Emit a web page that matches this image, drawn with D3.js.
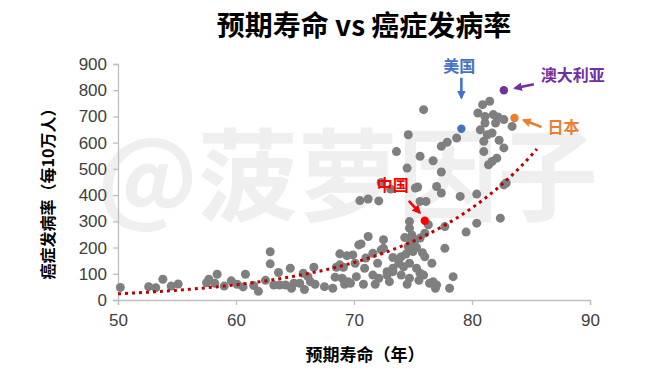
<!DOCTYPE html>
<html>
<head>
<meta charset="utf-8">
<script src="https://cdn.jsdelivr.net/npm/d3@7"></script>
<style>
  body { margin: 0; background: #fff; }
  svg text { font-family: "Liberation Sans", Arial, sans-serif; }
  .cjk { font-family: "Noto Sans CJK SC", sans-serif; }
</style>
</head>
<body>
<div id="chart"></div>
<script>
// life expectancy (years) / cancer incidence (per 100k) per country
const lifeExp = [
  50.2, 52.6, 53.2, 53.8, 54.5, 55.1, 57.5, 57.7, 58.4, 58.2, 59.0, 59.6, 60.1, 60.6, 60.8,
  61.5, 61.9, 62.5, 62.9, 62.9, 63.2, 63.6, 63.7, 64.2, 64.6, 64.7, 64.9, 65.4, 65.7, 65.8,
  66.1, 66.3, 66.6, 66.7, 67.5, 68.2, 68.4, 68.5, 68.8, 68.8, 69.0, 69.1, 69.2, 69.5, 69.7,
  69.4, 69.9,
  70.1, 70.2, 70.4, 70.5, 70.6, 70.9, 71.2, 71.2, 71.6, 71.6, 72.1, 72.1, 72.3, 72.3, 72.5,
  72.8, 72.8, 73.1, 73.3, 73.3, 73.3, 73.6, 74.0, 74.0, 74.2, 74.3, 74.5, 74.6, 74.6, 74.7,
  74.7, 74.7, 74.7, 74.9, 75.2, 75.2, 75.3, 75.3, 75.4, 75.6, 75.6, 75.6, 75.6, 75.9, 76.0,
  76.0, 76.1, 76.3, 76.4, 76.6, 76.7, 76.7, 76.9, 77.0, 77.0, 77.4, 77.4, 77.4, 77.7, 77.7,
  77.9, 78.1, 78.4, 78.7, 79.0, 79.5,
  74.8, 75.0, 74.4, 75.8, 73.8, 72.0, 71.0, 70.8, 71.8, 73.0, 74.5, 75.5, 75.9, 72.5,
  80.4, 80.4, 80.5, 80.7, 80.9, 81.0, 81.0, 81.1, 81.1, 81.3, 81.4, 81.5, 81.7, 81.7, 81.8,
  82.0, 82.1, 82.2, 82.3, 82.4, 82.7, 82.7, 82.7, 82.9, 83.4
];
const incidence = [
  48, 51, 47, 79, 53, 61, 66, 79, 98, 64, 53, 73, 60, 50, 98,
  55, 33, 75, 184, 138, 57, 105, 57, 57, 121, 45, 64, 64, 102, 40,
  89, 70, 125, 60, 51, 45, 87, 125, 176, 134, 83, 125, 60, 70, 64,
  169, 172,
  140, 89, 210, 379, 214, 121, 385, 242, 178, 95, 378, 83, 448, 191, 197,
  108, 95, 423, 162, 121, 108, 566, 165, 95, 127, 238, 503, 630, 204, 140,
  299, 274, 83, 248, 229, 427, 200, 121, 431, 548, 376, 236, 102, 726, 255,
  165, 376, 287, 64, 140, 531, 70, 45, 433, 57, 586, 488, 408, 280, 197,
  602, 45, 89, 618, 395, 259,
  218, 185, 175, 180, 140, 140, 160, 60, 60, 70, 60, 75, 95, 230,
  404, 293, 713, 649, 745, 605, 566, 700, 675, 630, 516, 758, 637, 528, 707,
  675, 541, 698, 609, 312, 688, 580, 439, 446, 662
];

// highlighted countries
const hlNames = ['美国', '澳大利亚', '日本', '中国'];
const hlLife = [79.1, 82.7, 83.6, 76.0];
const hlRate = [653, 800, 694, 302];
const hlColors = ['#4472c4', '#7030a0', '#ed7d31', '#ff0000'];

const xTicks = [50, 60, 70, 80, 90];
const yTicks = [0, 100, 200, 300, 400, 500, 600, 700, 800, 900];

const W = 664, H = 372;
const margin = {top: 64, right: 74, bottom: 72, left: 118};

const svg = d3.select('#chart').append('svg').attr('width', W).attr('height', H);

const x = d3.scaleLinear().domain([50, 90]).range([margin.left, W - margin.right]);
const y = d3.scaleLinear().domain([0, 900]).range([H - margin.bottom, margin.top]);

// watermark
svg.append('text')
  .attr('class', 'cjk')
  .attr('x', 97).attr('y', 213)
  .attr('font-size', 100).attr('font-weight', 'bold')
  .attr('fill', '#efefef')
  .text('@菠萝因子');

// title
svg.append('text')
  .attr('class', 'cjk')
  .attr('x', 364).attr('y', 36)
  .attr('text-anchor', 'middle')
  .attr('font-size', 28).attr('font-weight', 'bold')
  .attr('fill', '#000')
  .text('预期寿命 vs 癌症发病率');

// axes
const xAxis = svg.append('g')
  .attr('transform', 'translate(0,' + y(0) + ')')
  .call(d3.axisBottom(x).tickValues(xTicks).tickSize(5).tickPadding(9));
const yAxis = svg.append('g')
  .attr('transform', 'translate(' + x(50) + ',0)')
  .call(d3.axisLeft(y).tickValues(yTicks).tickSize(5).tickPadding(6));
[xAxis, yAxis].forEach(g => {
  g.selectAll('path, line').attr('stroke', '#bfbfbf').attr('stroke-width', 1.3);
  g.selectAll('text').attr('font-size', 17).attr('fill', '#404040')
    .attr('font-family', '"Liberation Sans", Arial, sans-serif');
});

svg.append('text')
  .attr('class', 'cjk')
  .attr('x', 365).attr('y', 361)
  .attr('text-anchor', 'middle')
  .attr('font-size', 17).attr('font-weight', 'bold')
  .text('预期寿命（年）');
svg.append('text')
  .attr('class', 'cjk')
  .attr('transform', 'translate(54,' + 190 + ') rotate(-90)')
  .attr('text-anchor', 'middle')
  .attr('font-size', 16).attr('font-weight', 'bold')
  .text('癌症发病率（每10万人）');

// points
const pts = lifeExp.map((d, i) => ({x: d, y: incidence[i]}));
svg.append('g').selectAll('circle').data(pts).enter()
  .append('circle')
  .attr('cx', d => x(d.x))
  .attr('cy', d => y(d.y))
  .attr('r', 4.5)
  .attr('fill', '#7f7f7f');

// exponential trendline (least squares on ln y, all countries)
const allX = lifeExp.concat(hlLife);
const allY = incidence.concat(hlRate);
const mx = d3.mean(allX);
const ly = allY.map(v => Math.log(v));
const my = d3.mean(ly);
let sxy = 0, sxx = 0;
allX.forEach((v, i) => { sxy += (v - mx) * (ly[i] - my); sxx += (v - mx) * (v - mx); });
const b = sxy / sxx;
const a = Math.exp(my - b * mx);
const trendX = d3.range(50, 85.6, 0.5);
svg.append('path')
  .datum(trendX)
  .attr('fill', 'none')
  .attr('stroke', '#c00000')
  .attr('stroke-width', 3)
  .attr('stroke-dasharray', '3,4')
  .attr('d', d3.line().x(d => x(d)).y(d => y(a * Math.exp(b * d))));

// highlighted points
svg.append('g').selectAll('circle').data(hlLife).enter()
  .append('circle')
  .attr('cx', (d, i) => x(d))
  .attr('cy', (d, i) => y(hlRate[i]))
  .attr('r', 4.2)
  .attr('fill', (d, i) => hlColors[i]);

// annotations: label position and arrow offsets relative to the point
const labelPos = [
  {tx: -2, ty: -57, anchor: 'middle', ax1: 0, ay1: -51, ax2: 0, ay2: -31},
  {tx: 37, ty: -9, anchor: 'start', ax1: 30, ay1: -6, ax2: 11, ay2: -2},
  {tx: 33, ty: 15, anchor: 'start', ax1: 27, ay1: 9, ax2: 9, ay2: 2},
  {tx: -32, ty: -30, anchor: 'middle', ax1: -16, ay1: -20, ax2: -5, ay2: -8}
];

const defs = svg.append('defs');
hlColors.forEach((c, i) => {
  defs.append('marker')
    .attr('id', 'arr' + i)
    .attr('viewBox', '0 0 10 10')
    .attr('refX', 8).attr('refY', 5)
    .attr('markerWidth', 3.4).attr('markerHeight', 3.4)
    .attr('orient', 'auto')
    .append('path').attr('d', 'M0,0L10,5L0,10z').attr('fill', c);
});

hlNames.forEach((name, i) => {
  const px = x(hlLife[i]), py = y(hlRate[i]);
  const p = labelPos[i];
  svg.append('text')
    .attr('class', 'cjk')
    .attr('x', px + p.tx).attr('y', py + p.ty)
    .attr('text-anchor', p.anchor)
    .attr('font-size', 16).attr('font-weight', 'bold')
    .attr('fill', hlColors[i])
    .text(name);
  svg.append('line')
    .attr('x1', px + p.ax1).attr('y1', py + p.ay1)
    .attr('x2', px + p.ax2).attr('y2', py + p.ay2)
    .attr('stroke', hlColors[i]).attr('stroke-width', 2.6)
    .attr('marker-end', 'url(#arr' + i + ')');
});
</script>
</body>
</html>
